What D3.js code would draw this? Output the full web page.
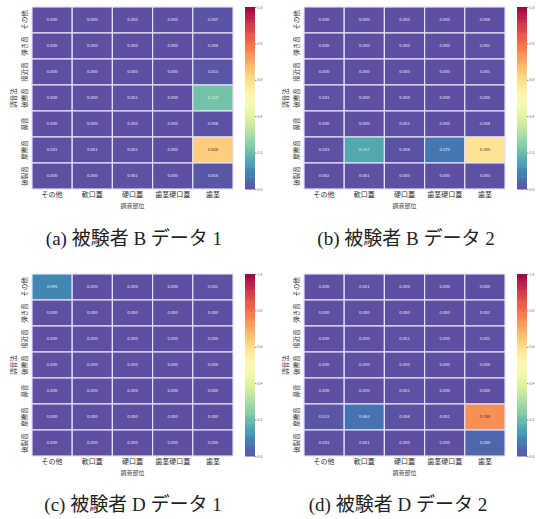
<!DOCTYPE html>
<html>
<head>
<meta charset="utf-8">
<script src="https://cdn.jsdelivr.net/npm/d3@7"></script>
<style>
  body { margin: 0; background: #fff; }
  svg text { font-family: "Noto Sans CJK JP", "DejaVu Sans", sans-serif; }
  .cap { font-family: "Liberation Serif", "Noto Sans CJK JP", serif; font-size: 19px; fill: #222; }
</style>
</head>
<body>
<svg id="chart" width="536" height="519"></svg>
<script>
// 調音部位 (列) と 調音法 (行)
const cols = ["その他", "軟口蓋", "硬口蓋", "歯茎硬口蓋", "歯茎"];
const rows = ["その他", "弾き音", "接近音", "破擦音", "鼻音", "摩擦音", "破裂音"];
const cbTicks = [0, 0.2, 0.4, 0.6, 0.8, 1.0];
const captions = ["(a) 被験者 B データ 1", "(b) 被験者 B データ 2", "(c) 被験者 D データ 1", "(d) 被験者 D データ 2"];

// 各パネルの値 (行 x 列)
const dataA = [
  [0.000, 0.000, 0.000, 0.000, 0.007],
  [0.000, 0.000, 0.000, 0.000, 0.004],
  [0.000, 0.000, 0.000, 0.000, 0.013],
  [0.000, 0.000, 0.001, 0.000, 0.214],
  [0.000, 0.000, 0.000, 0.000, 0.006],
  [0.001, 0.001, 0.001, 0.000, 0.638],
  [0.000, 0.000, 0.001, 0.000, 0.014]
];
const dataB = [
  [0.000, 0.000, 0.000, 0.000, 0.000],
  [0.000, 0.000, 0.000, 0.000, 0.001],
  [0.000, 0.000, 0.000, 0.000, 0.001],
  [0.001, 0.000, 0.000, 0.000, 0.000],
  [0.000, 0.000, 0.001, 0.000, 0.004],
  [0.003, 0.157, 0.006, 0.070, 0.585],
  [0.002, 0.001, 0.000, 0.000, 0.003]
];
const dataC = [
  [0.098, 0.000, 0.000, 0.000, 0.001],
  [0.000, 0.000, 0.000, 0.000, 0.000],
  [0.000, 0.000, 0.000, 0.000, 0.000],
  [0.000, 0.000, 0.000, 0.000, 0.000],
  [0.000, 0.000, 0.000, 0.000, 0.000],
  [0.000, 0.000, 0.000, 0.000, 0.000],
  [0.000, 0.000, 0.000, 0.000, 0.000]
];
const dataD = [
  [0.000, 0.001, 0.000, 0.000, 0.000],
  [0.000, 0.000, 0.000, 0.000, 0.001],
  [0.000, 0.000, 0.001, 0.000, 0.001],
  [0.000, 0.000, 0.000, 0.000, 0.000],
  [0.000, 0.000, 0.001, 0.000, 0.000],
  [0.013, 0.063, 0.004, 0.001, 0.748],
  [0.003, 0.001, 0.000, 0.000, 0.040]
];
const panelData = [dataA, dataB, dataC, dataD];

// パネル配置
const panels = [
  { left: 32, top: 7, capX: 134, capY: 245 },
  { left: 304, top: 7, capX: 406, capY: 245 },
  { left: 32, top: 274, capX: 133, capY: 511 },
  { left: 304, top: 274, capX: 398, capY: 511 }
];
const W = 201, H = 182;

const svg = d3.select("#chart");
const color = d3.scaleSequential(t => d3.interpolateSpectral(1 - t)).domain([0, 1]);

function drawPanel(p, data, caption) {
  const g = svg.append("g").attr("transform", `translate(${p.left},${p.top})`);
  const x = d3.scaleBand().domain(cols).range([0, W]);
  const y = d3.scaleBand().domain(rows).range([0, H]);

  const cells = [];
  data.forEach((r, i) => r.forEach((v, j) => cells.push({ row: rows[i], col: cols[j], v: v })));

  g.selectAll("rect.cell")
    .data(cells)
    .enter()
    .append("rect")
    .attr("class", "cell")
    .attr("x", d => x(d.col))
    .attr("y", d => y(d.row))
    .attr("width", x.bandwidth())
    .attr("height", y.bandwidth())
    .attr("fill", d => color(d.v))
    .attr("stroke", "#e4e0f4")
    .attr("stroke-width", 1.2);

  g.selectAll("text.val")
    .data(cells)
    .enter()
    .append("text")
    .attr("class", "val")
    .attr("x", d => x(d.col) + x.bandwidth() / 2)
    .attr("y", d => y(d.row) + y.bandwidth() / 2)
    .attr("dy", "0.35em")
    .attr("text-anchor", "middle")
    .attr("font-size", 4.2)
    .attr("fill", d => (d.v > 0.35 && d.v < 0.75) ? "#333" : "#eeeaf8")
    .text(d => d.v.toFixed(3));

  // x 軸
  const xAxis = g.append("g")
    .attr("transform", `translate(0,${H})`)
    .call(d3.axisBottom(x).tickSize(0).tickPadding(3));
  xAxis.select(".domain").remove();
  xAxis.selectAll("text").attr("font-size", 7).attr("fill", "#333");
  g.append("text")
    .attr("x", W / 2)
    .attr("y", H + 19)
    .attr("text-anchor", "middle")
    .attr("font-size", 6)
    .attr("fill", "#444")
    .text("調音部位");

  // y 軸 (ラベルは回転)
  const yAxis = g.append("g").call(d3.axisLeft(y).tickSize(0));
  yAxis.select(".domain").remove();
  yAxis.selectAll("text")
    .attr("font-size", 6.5)
    .attr("fill", "#333")
    .attr("text-anchor", "middle")
    .attr("x", 0)
    .attr("y", 0)
    .attr("dy", "0.35em")
    .attr("transform", "translate(-7,0) rotate(-90)");
  g.append("text")
    .attr("transform", `translate(-16,${H / 2}) rotate(-90)`)
    .attr("text-anchor", "middle")
    .attr("font-size", 6.5)
    .attr("fill", "#333")
    .text("調音法");

  // カラーバー
  const cb = g.append("g").attr("transform", `translate(${W + 12},0)`);
  const cy = d3.scaleLinear().domain([0, 1]).range([H, 0]);
  const steps = d3.range(0, 1, 0.01);
  cb.selectAll("rect")
    .data(steps)
    .enter()
    .append("rect")
    .attr("x", 0)
    .attr("y", d => cy(d + 0.01))
    .attr("width", 10)
    .attr("height", cy(0) - cy(0.01) + 0.5)
    .attr("fill", d => color(d + 0.005));
  const cbAxis = cb.append("g")
    .attr("transform", "translate(10,0)")
    .call(d3.axisRight(cy).tickValues(cbTicks).tickSize(1.5).tickFormat(d3.format(".1f")));
  cbAxis.select(".domain").remove();
  cbAxis.selectAll("line").attr("stroke", "#888");
  cbAxis.selectAll("text").attr("font-size", 3.5).attr("fill", "#666").attr("x", 2.5);

  svg.append("text")
    .attr("class", "cap")
    .attr("x", p.capX)
    .attr("y", p.capY)
    .attr("text-anchor", "middle")
    .text(caption);
}

panels.forEach((p, i) => drawPanel(p, panelData[i], captions[i]));
</script>
</body>
</html>
